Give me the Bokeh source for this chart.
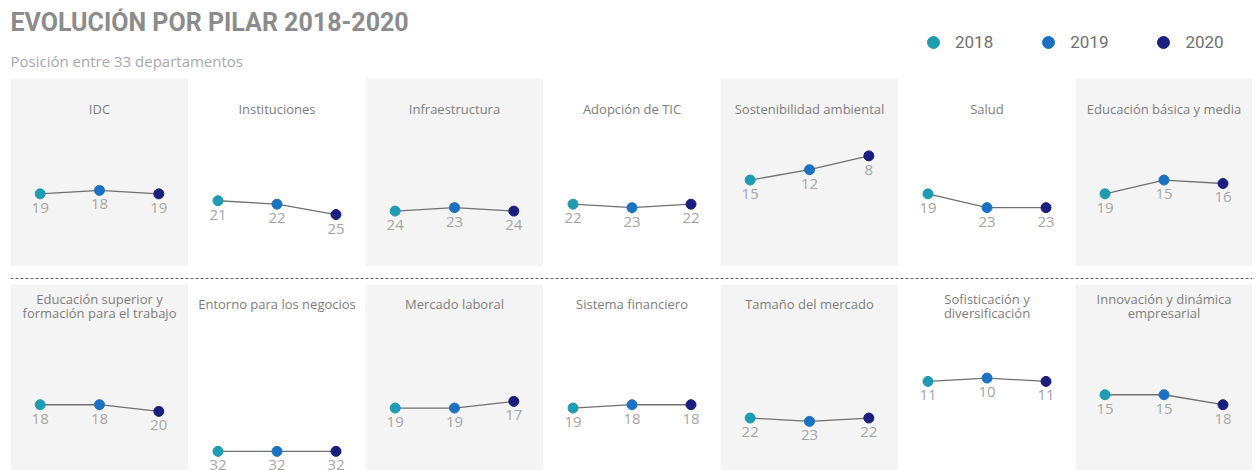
from bokeh.plotting import figure
from bokeh.models import Range1d, Label, Span, Legend, LegendItem, ColumnDataSource, Spacer
from bokeh.layouts import column, row
from bokeh.core.properties import value
from bokeh.embed import file_html
from bokeh.resources import INLINE

# ---------------- data ----------------
years = [2018, 2019, 2020]
year_labels = ["2018", "2019", "2020"]
year_colors = ["#1f9bb2", "#1b72c2", "#1a1f7e"]

row1_titles = [
    ["IDC"],
    ["Instituciones"],
    ["Infraestructura"],
    ["Adopción de TIC"],
    ["Sostenibilidad ambiental"],
    ["Salud"],
    ["Educación básica y media"],
]
row1_values = [
    [19, 18, 19],
    [21, 22, 25],
    [24, 23, 24],
    [22, 23, 22],
    [15, 12, 8],
    [19, 23, 23],
    [19, 15, 16],
]

row2_titles = [
    ["Educación superior y", "formación para el trabajo"],
    ["Entorno para los negocios"],
    ["Mercado laboral"],
    ["Sistema financiero"],
    ["Tamaño del mercado"],
    ["Sofisticación y", "diversificación"],
    ["Innovación y dinámica", "empresarial"],
]
row2_values = [
    [18, 18, 20],
    [32, 32, 32],
    [19, 19, 17],
    [19, 18, 18],
    [22, 23, 22],
    [11, 10, 11],
    [15, 15, 18],
]

title_text = "EVOLUCIÓN POR PILAR 2018-2020"
subtitle_text = "Posición entre 33 departamentos"

# ---------------- styling ----------------
col_widths = [178, 177, 178, 177, 178, 177, 177]
GREY_BG = "#f4f4f4"
WHITE_BG = "#ffffff"
TOTAL_W = sum(col_widths)


def make_panel(title_lines, vals, width, bg, height, yrange, title_top, line_gap):
    p = figure(width=width, height=height,
               x_range=Range1d(2017.5, 2020.5), y_range=Range1d(*yrange),
               output_backend="svg", toolbar_location=None,
               x_axis_location=None, y_axis_location=None,
               min_border=0, background_fill_color=bg, border_fill_color=bg,
               outline_line_color=None)
    p.xgrid.visible = False
    p.ygrid.visible = False
    src = ColumnDataSource(dict(x=years, y=vals, c=year_colors,
                                t=[str(v) for v in vals]))
    p.line("x", "y", source=src, line_color="#707070", line_width=1.3)
    p.scatter("x", "y", source=src, size=10, fill_color="c", line_color="c")
    p.text("x", "y", "t", source=src, y_offset=14, text_align="center",
           text_baseline="middle", text_font=value("Open Sans"),
           text_font_size="15px", text_color="#a6a6a6")
    for i, ln in enumerate(title_lines):
        p.add_layout(Label(x=width / 2, y=height - title_top - i * line_gap,
                           x_units="screen", y_units="screen", text=ln,
                           text_align="center", text_baseline="middle",
                           text_font="Open Sans", text_font_size="13px",
                           text_color="#7e7e7e"))
    return p


# header
HEADER_W = TOTAL_W + 2
header = figure(width=HEADER_W, height=70, x_range=Range1d(0, 1), y_range=Range1d(0, 1),
                output_backend="svg", toolbar_location=None,
                x_axis_location=None, y_axis_location=None,
                min_border=0, outline_line_color=None)
header.xgrid.visible = False
header.ygrid.visible = False
header.add_layout(Label(x=2, y=56, x_units="screen", y_units="screen", text=title_text,
                        text_baseline="middle", text_font="Roboto", text_font_style="bold",
                        text_font_size="25px", text_color="#8c8c8c"))
header.add_layout(Label(x=2, y=18, x_units="screen", y_units="screen", text=subtitle_text,
                        text_baseline="middle", text_font="Open Sans",
                        text_font_size="15px", text_color="#a8a8a8"))
items = []
for yr, lab, c in zip(years, year_labels, year_colors):
    # legend-only renderer: its single point lies outside the header's range
    r = header.scatter(x=[yr], y=[0], size=11, fill_color=c, line_color=c)
    items.append(LegendItem(label=lab, renderers=[r]))
leg = Legend(items=items, orientation="horizontal", location=(910, 21),
             glyph_width=30, glyph_height=30, label_standoff=7, spacing=40,
             padding=0, margin=0, border_line_color=None, background_fill_alpha=0,
             label_text_font="Roboto", label_text_font_size="17px",
             label_text_color="#707070", label_height=20)
header.add_layout(leg)

# rows
R1_H = 188
R2_H = 186
r1_figs = [make_panel(t, v, w, GREY_BG if i % 2 == 0 else WHITE_BG, R1_H,
                      (40.06, -14.43), 30, 14)
           for i, (t, v, w) in enumerate(zip(row1_titles, row1_values, col_widths))]
r2_figs = []
for i, (t, v, w) in enumerate(zip(row2_titles, row2_values, col_widths)):
    top = 19 if len(t) == 1 else 14
    r2_figs.append(make_panel(t, v, w, GREY_BG if i % 2 == 0 else WHITE_BG, R2_H,
                              (37.75, -18.1), top, 14))

sep = figure(width=TOTAL_W, height=18, x_range=Range1d(0, 1), y_range=Range1d(0, 18),
             output_backend="svg", toolbar_location=None,
             x_axis_location=None, y_axis_location=None,
             min_border=0, outline_line_color=None)
sep.xgrid.visible = False
sep.ygrid.visible = False
sep.add_layout(Span(location=6, dimension="width", line_color="#606060",
                    line_width=1, line_dash="3 2"))

inner = column(
    Spacer(width=HEADER_W, height=8),
    header,
    row(Spacer(width=2, height=R1_H), *r1_figs),
    row(Spacer(width=2, height=18), sep),
    row(Spacer(width=2, height=R2_H), *r2_figs),
)
layout = row(Spacer(width=8, height=470), inner)

open("out.html", "w").write(file_html(layout, INLINE))
